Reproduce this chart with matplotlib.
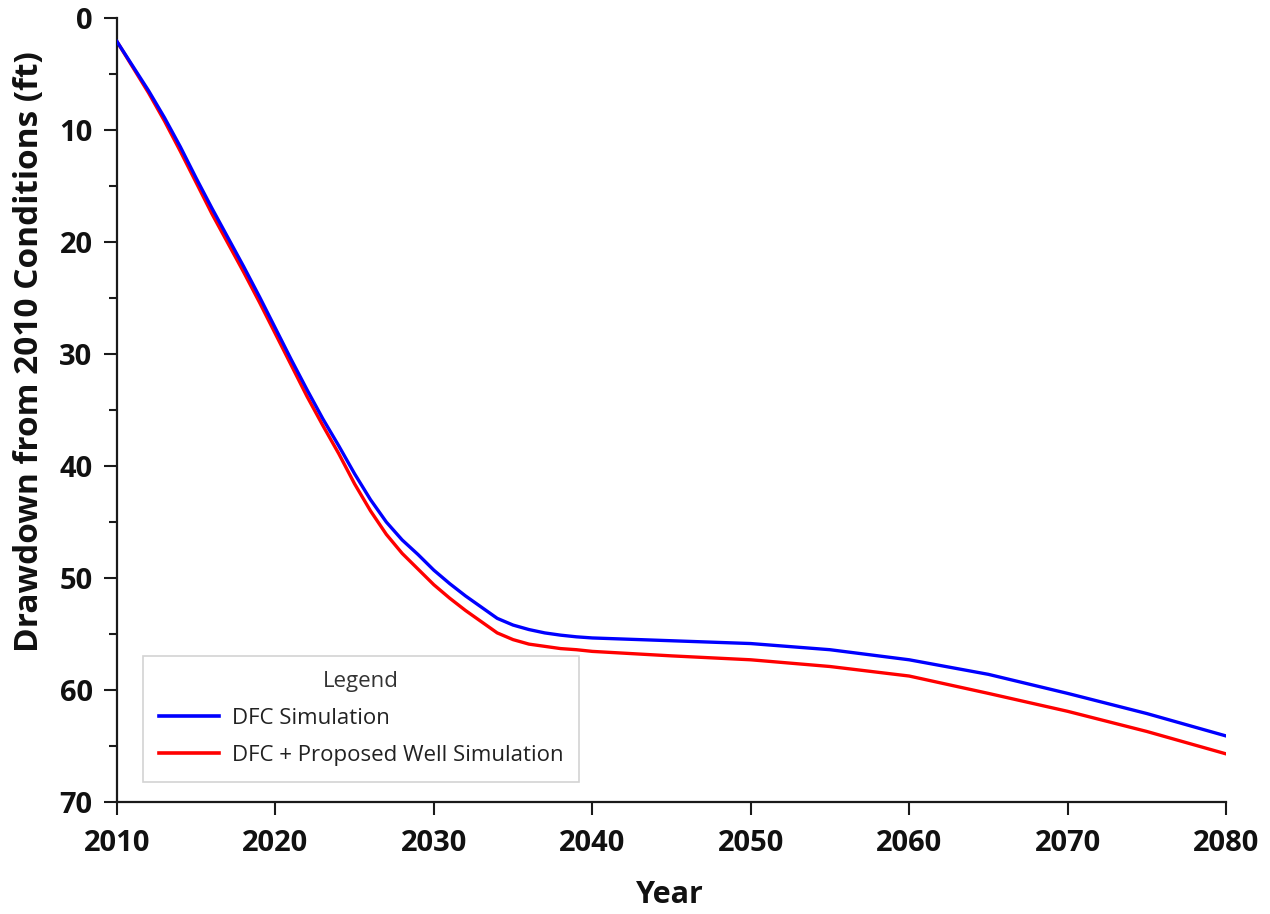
import matplotlib
matplotlib.use("Agg")
import matplotlib.pyplot as plt
from matplotlib.ticker import MultipleLocator

plt.rcParams['font.family'] = ['Open Sans', 'DejaVu Sans']

years = [2010, 2011, 2012, 2013, 2014, 2015, 2016, 2017, 2018, 2019,
         2020, 2021, 2022, 2023, 2024, 2025, 2026, 2027, 2028, 2029,
         2030, 2031, 2032, 2033, 2034, 2035, 2036, 2037, 2038, 2039,
         2040, 2045, 2050, 2055, 2060, 2065, 2070, 2075, 2080]

dfc_sim = [2.1, 4.3, 6.5, 8.9, 11.5, 14.3, 17.0, 19.6, 22.2, 24.9,
           27.7, 30.5, 33.2, 35.8, 38.2, 40.7, 43.0, 45.0, 46.6, 47.9,
           49.3, 50.5, 51.6, 52.6, 53.6, 54.2, 54.6, 54.9, 55.1, 55.25,
           55.35, 55.6, 55.85, 56.4, 57.3, 58.6, 60.3, 62.1, 64.1]

dfc_well_sim = [2.1, 4.4, 6.7, 9.2, 11.9, 14.7, 17.5, 20.1, 22.7, 25.4,
                28.2, 31.0, 33.8, 36.4, 38.9, 41.6, 44.0, 46.1, 47.8, 49.2,
                50.6, 51.8, 52.9, 53.9, 54.9, 55.5, 55.9, 56.1, 56.3, 56.4,
                56.55, 56.95, 57.3, 57.9, 58.75, 60.3, 61.9, 63.7, 65.7]

series_labels = ["DFC Simulation", "DFC + Proposed Well Simulation"]
x_ticks = [2010, 2020, 2030, 2040, 2050, 2060, 2070, 2080]
y_ticks = [0, 10, 20, 30, 40, 50, 60, 70]

fig = plt.figure(figsize=(12.7, 9.14), dpi=100)
ax = fig.add_axes([0.0921, 0.1225, 0.8733, 0.8578])

ax.plot(years, dfc_sim, color="#0000ff", lw=2.4, label=series_labels[0],
        solid_joinstyle="round", zorder=3)
ax.plot(years, dfc_well_sim, color="#ff0000", lw=2.4, label=series_labels[1],
        solid_joinstyle="round", zorder=2)

ax.set_xlim(2010, 2080)
ax.set_ylim(70, 0)
ax.set_xticks(x_ticks)
ax.set_yticks(y_ticks)
ax.yaxis.set_minor_locator(MultipleLocator(5))

for side in ("top", "right"):
    ax.spines[side].set_visible(False)
for side in ("left", "bottom"):
    ax.spines[side].set_linewidth(1.6)
    ax.spines[side].set_color("#1a1a1a")

ax.tick_params(axis="both", which="major", direction="out", length=9.5,
               width=1.5, color="#1a1a1a", labelsize=21)
ax.tick_params(axis="y", which="minor", direction="out", length=5.5,
               width=1.5, color="#1a1a1a")
ax.tick_params(axis="y", which="major", pad=8)
ax.tick_params(axis="x", which="major", pad=10)
for lbl in ax.get_xticklabels() + ax.get_yticklabels():
    lbl.set_fontweight("bold")
    lbl.set_color("#111111")

ax.set_xlabel("Year", fontsize=22, fontweight="bold", color="#111111")
ax.set_ylabel("Drawdown from 2010 Conditions (ft)", fontsize=24,
              fontweight="bold", color="#111111")
ax.xaxis.set_label_coords(0.4986, -0.099)
ax.yaxis.set_label_coords(-0.064, 0.575)

leg = ax.legend(loc="lower left", bbox_to_anchor=(0.0235, 0.026),
                title="Legend", fontsize=16, title_fontsize=16,
                frameon=True, fancybox=False, shadow=False,
                handlelength=2.7, handletextpad=0.6, labelspacing=0.72,
                borderpad=0.7, borderaxespad=0)
leg.get_frame().set_edgecolor("#c8c8c8")
leg.get_frame().set_linewidth(1.2)
leg.get_title().set_color("#333333")
for t in leg.get_texts():
    t.set_color("#222222")
for h in leg.get_lines():
    h.set_linewidth(2.6)

fig.savefig("out.png", dpi=100, facecolor="white")
